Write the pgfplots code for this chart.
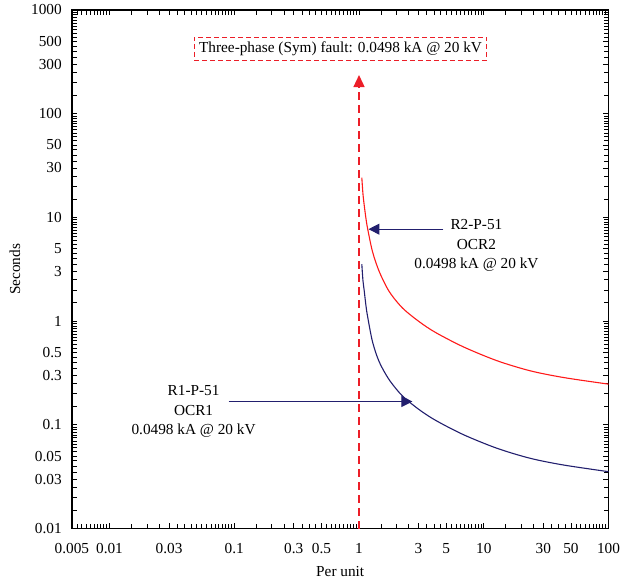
\documentclass[border=0pt]{standalone}
\usepackage{fontspec}
\setmainfont{Liberation Serif}
\usepackage{pgfplots}
\pgfplotsset{compat=1.18}
\usetikzlibrary{arrows.meta}
\definecolor{navy}{RGB}{34,31,110}
\definecolor{curvered}{RGB}{255,25,25}
\definecolor{dashred}{RGB}{236,30,40}
\begin{document}
\begin{tikzpicture}
\begin{axis}[
  xmode=log, ymode=log,
  scale only axis, width=537pt, height=519pt,
  xmin=0.005, xmax=100, ymin=0.01, ymax=1000,
  clip=false,
  font=\fontsize{15.3}{19.5}\selectfont,
  xtick={0.005,0.01,0.03,0.1,0.3,0.5,1,3,5,10,30,50,100},
  xticklabels={0.005,0.01,0.03,0.1,0.3,0.5,1,3,5,10,30,50,100},
  ytick={0.01,0.03,0.05,0.1,0.3,0.5,1,3,5,10,30,50,100,300,500,1000},
  yticklabels={0.01,0.03,0.05,0.1,0.3,0.5,1,3,5,10,30,50,100,300,500,1000},
  minor xtick={0.0055,0.006,0.0065,0.007,0.0075,0.008,0.0085,0.009,0.0095,
    0.015,0.02,0.025,0.03,0.035,0.04,0.045,0.05,0.055,0.06,0.065,0.07,0.075,0.08,0.085,0.09,0.095,
    0.15,0.2,0.25,0.3,0.35,0.4,0.45,0.5,0.55,0.6,0.65,0.7,0.75,0.8,0.85,0.9,0.95,
    1.5,2,2.5,3,3.5,4,4.5,5,5.5,6,6.5,7,7.5,8,8.5,9,9.5,
    15,20,25,30,35,40,45,50,55,60,65,70,75,80,85,90,95},
  minor ytick={0.015,0.02,0.025,0.03,0.035,0.04,0.045,0.05,0.055,0.06,0.065,0.07,0.075,0.08,0.085,0.09,0.095,
    0.15,0.2,0.25,0.3,0.35,0.4,0.45,0.5,0.55,0.6,0.65,0.7,0.75,0.8,0.85,0.9,0.95,
    1.5,2,2.5,3,3.5,4,4.5,5,5.5,6,6.5,7,7.5,8,8.5,9,9.5,
    15,20,25,30,35,40,45,50,55,60,65,70,75,80,85,90,95,
    150,200,250,300,350,400,450,500,550,600,650,700,750,800,850,900,950},
  tick align=inside,
  major tick length=5.5pt, minor tick length=5pt,
  tick style={black, line width=0.8pt},
  axis line style={black, line width=1.3pt},
  xticklabel style={inner sep=0pt, yshift=-14.5pt},
  yticklabel style={inner sep=0pt, xshift=-10pt},
  xlabel={Per unit}, ylabel={Seconds},
  xlabel style={inner sep=0pt, at={(axis description cs:0.5,-0.0829)}, anchor=center},
  ylabel style={inner sep=0pt, at={(axis description cs:-0.1061,0.5)}, anchor=center},
]
% R2 (OCR2) curve
\addplot[curvered, line width=1.1pt, smooth, tension=0.5] coordinates {
(1.053,24.2) (1.075,17.0) (1.10,13.2) (1.135,9.9) (1.17,7.89) (1.282,4.69)
(1.452,3.01) (1.746,1.93) (2.23,1.34) (3.03,0.99) (4.12,0.776) (6.91,0.563)
(12.8,0.415) (23.6,0.332) (43.7,0.286) (100,0.247)};
% R1 (OCR1) curve
\addplot[navy, line width=1.1pt, smooth, tension=0.5] coordinates {
(1.053,3.55) (1.075,2.48) (1.10,1.98) (1.135,1.43) (1.17,1.12) (1.282,0.635)
(1.452,0.405) (1.746,0.272) (2.23,0.190) (3.03,0.1405) (4.12,0.1104) (6.91,0.0802)
(12.8,0.0594) (23.6,0.0476) (43.7,0.0410) (100,0.0354)};
% fault line
\addplot[dashred, line width=1.4pt, dash pattern=on 8pt off 5pt,
  -{Triangle[length=12pt,width=11pt]}] coordinates {(1,0.01) (1,236)};
\node[draw=dashred, line width=1pt, dash pattern=on 5pt off 3pt,
  inner xsep=5pt, inner ysep=2pt, minimum height=23pt, text=black] at (axis cs:0.711,425)
  {Three-phase (Sym) fault: 0.0498 kA @ 20 kV};
% annotations
\draw[navy, line width=1.1pt, -{Triangle[length=11pt,width=11pt]}]
  (axis cs:4.75,7.71) -- (axis cs:1.191,7.71);
\draw[navy, line width=1.1pt, -{Triangle[length=11pt,width=11pt]}]
  (axis cs:0.0901,0.168) -- (axis cs:2.68,0.168);
\node[align=center, text=black] at (axis cs:8.73,5.32)
  {R2-P-51\\OCR2\\0.0498 kA @ 20 kV};
\node[align=center, text=black] at (axis cs:0.0472,0.134)
  {R1-P-51\\OCR1\\0.0498 kA @ 20 kV};
\end{axis}
\path ([xshift=-72pt,yshift=-53pt]current axis.south west) rectangle ([xshift=11pt,yshift=10pt]current axis.north east);
\end{tikzpicture}
\end{document}
